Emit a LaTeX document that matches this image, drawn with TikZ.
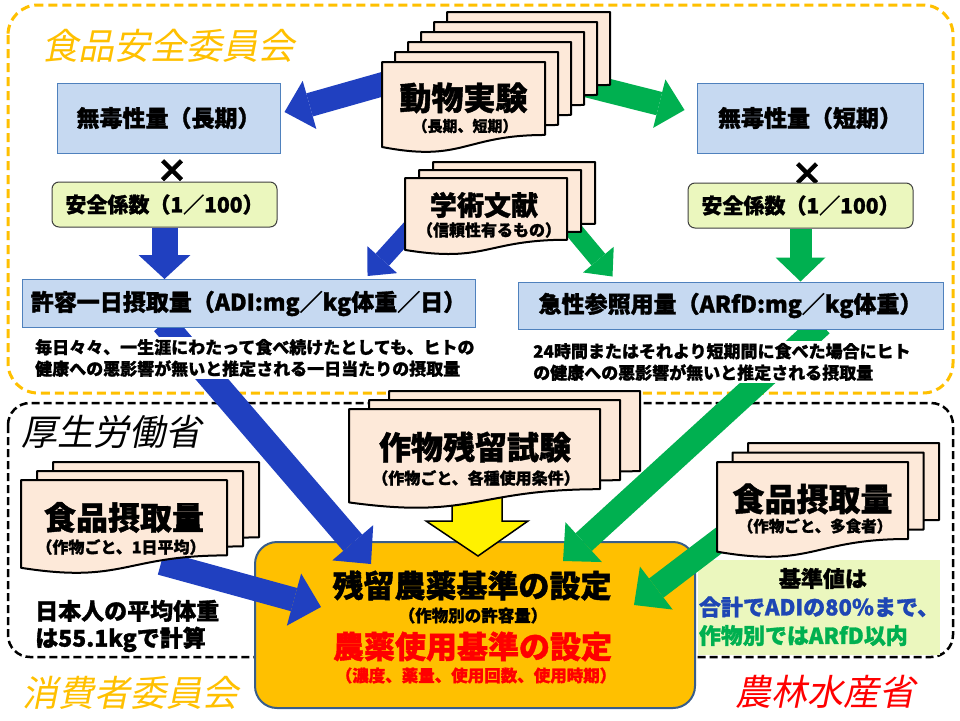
\documentclass[tikz,border=0pt]{standalone}
\usepackage{fontspec}
\setmainfont{Noto Sans CJK JP}[BoldFeatures={FakeBold=1.3}]
\newfontfamily\slantjp{Noto Sans CJK JP}[FakeSlant=0.2]
\usepackage{tikz}
\usetikzlibrary{arrows.meta,positioning,calc}
\definecolor{gold}{RGB}{255,192,0}
\definecolor{skyblue}{RGB}{198,217,241}
\definecolor{boxblue}{RGB}{79,129,189}
\definecolor{limefill}{RGB}{235,247,190}
\definecolor{docfill}{RGB}{253,233,217}
\definecolor{deepblue}{RGB}{32,64,192}
\definecolor{deepgreen}{RGB}{0,176,80}
\definecolor{slate}{RGB}{56,93,138}
\definecolor{textblue}{RGB}{30,70,180}
\pgfdeclarelayer{back}
\pgfdeclarelayer{mid}
\pgfsetlayers{back,mid,main}

% one page with a wavy bottom, top left corner at (#1,#2), size #3 x #4
\newcommand{\docpage}[4]{%
  \filldraw[fill=docfill, draw=black, line width=2pt, line join=round]
    (#1,#2) -- (#1+#3,#2) -- (#1+#3,#2+0.802*#4)
    .. controls (#1+0.5*#3,#2+0.802*#4) and (#1+0.5*#3,#2+1.107*#4) ..
    (#1,#2+0.934*#4) -- cycle;}
% stack of pages, the back ones shifted by (#6,#7)
\newcommand{\docstack}[7]{%
  \foreach \k in {#5} {\docpage{#1+\k*#6}{#2+\k*#7}{#3}{#4}}}

\begin{document}
\begin{tikzpicture}[x=1pt, y=-1pt,
    bluebox/.style={rectangle, draw=boxblue, line width=1pt, fill=skyblue,
                    font=\bfseries\fontsize{23}{26}\selectfont, inner sep=0pt},
    factorbox/.style={rectangle, draw=black!75, line width=1pt, fill=limefill,
                      rounded corners=7pt, font=\bfseries\fontsize{21}{24}\selectfont, inner sep=0pt},
    doctitle/.style={font=\bfseries\fontsize{32}{36}\selectfont, inner sep=0pt},
    docsub/.style={font=\bfseries\fontsize{16}{18}\selectfont, inner sep=0pt},
    note/.style={align=left, font=\bfseries\fontsize{17}{21.5}\selectfont, inner sep=2pt},
    orgname/.style={font=\slantjp\fontsize{36}{40}\selectfont, inner sep=0pt},
    fatblue/.style={draw=deepblue, line width=24pt, -{Triangle[length=26pt,width=50pt,line width=0pt]}},
    fatgreen/.style={draw=deepgreen, line width=24pt, -{Triangle[length=26pt,width=50pt,line width=0pt]}},
    thinhead/.style={line width=18pt, -{Triangle[length=22pt,width=40pt,line width=0pt]}},
    bighead/.style={-{Triangle[length=28pt,width=54pt,line width=0pt]}}
]
\useasboundingbox (0,0) rectangle (960,720);

\begin{pgfonlayer}{back}
\fill[white] (0,0) rectangle (960,720);
\draw[gold, line width=3pt, dash pattern=on 9pt off 5pt, rounded corners=30pt] (8,5) rectangle (953,393);
\draw[black, line width=2.5pt, dash pattern=on 8pt off 4pt, rounded corners=22pt] (8,403) rectangle (953,657);
\node[draw=slate, line width=2pt, fill=gold, rounded corners=22pt, minimum width=440pt,
      minimum height=166pt] (kijun) at (475,625) {};
\node[fill=limefill, minimum width=242pt, minimum height=95pt, align=left, inner sep=0pt,
      font=\bfseries\fontsize{22}{28.5}\selectfont] (limit) at (819,607)
     {\hspace*{80pt}基準値は\\\textcolor{textblue}{合計でADIの80％まで、}\\\textcolor{deepgreen}{作物別ではARfD以内}};
\end{pgfonlayer}

\docstack{382}{62}{163}{91}{5,4,3,2,1,0}{13}{-10}
\docstack{405}{178}{162}{77}{2,1,0}{14}{-8}
\docstack{349}{409}{251}{100}{2,1,0}{20}{-9}
\docstack{21}{480}{206}{94}{2,1,0}{16}{-9}
\docstack{717}{462}{191}{96}{2,1,0}{15.5}{-9.5}

\node[orgname, gold] (fsc) at (168,46) {食品安全委員会};
\node[orgname, black] (mhlw) at (111,432) {厚生労働省};
\node[orgname, gold] (caa) at (130,693) {消費者委員会};
\node[orgname, red] (maff) at (825,692) {農林水産省};

\node[bluebox, minimum width=223pt, minimum height=70pt] (notoxL) at (168.5,118) {無毒性量（長期）};
\node[bluebox, minimum width=226pt, minimum height=70pt] (notoxR) at (810,118) {無毒性量（短期）};
\node[font=\bfseries\fontsize{32}{32}\selectfont, inner sep=0pt] (timesL) at (172,171) {×};
\node[font=\bfseries\fontsize{32}{32}\selectfont, inner sep=0pt] (timesR) at (807,174) {×};
\node[factorbox, minimum width=225pt, minimum height=45pt] (safetyL) at (164.5,204.5) {安全係数（1／100）};
\node[factorbox, minimum width=225pt, minimum height=45pt] (safetyR) at (800.5,205.5) {安全係数（1／100）};
\node[bluebox, minimum width=453pt, minimum height=48pt] (adi) at (248.5,303.5) {許容一日摂取量（ADI:mg／kg体重／日）};
\node[bluebox, minimum width=425pt, minimum height=47pt] (arfd) at (730.5,305.5) {急性参照用量（ARfD:mg／kg体重）};
\node[note, fill=white, anchor=west] (adinote) at (33,358)
     {毎日々々、一生涯にわたって食べ続けたとしても、ヒトの\\健康への悪影響が無いと推定される一日当たりの摂取量};
\node[note, fill=white, anchor=west] (arfdnote) at (531,362)
     {24時間またはそれより短期間に食べた場合にヒト\\の健康への悪影響が無いと推定される摂取量};

\node[doctitle] (animal) at (463.5,98) {動物実験};
\node[docsub, font=\bfseries\fontsize{15}{18}\selectfont] (animalsub) at (465,126) {（長期、短期）};
\node[doctitle, font=\bfseries\fontsize{27}{30}\selectfont] (papers) at (484,205) {学術文献};
\node[docsub] (paperssub) at (489,230) {（信頼性有るもの）};
\node[doctitle] (croptest) at (475,447) {作物残留試験};
\node[docsub] (croptestsub) at (476,478) {（作物ごと、各種使用条件）};
\node[doctitle] (intakeL) at (124,517.5) {食品摂取量};
\node[docsub] (intakeLsub) at (121,547) {（作物ごと、1日平均）};
\node[doctitle] (intakeR) at (812.5,499) {食品摂取量};
\node[docsub, font=\bfseries\fontsize{15.5}{18}\selectfont] (intakeRsub) at (815,526) {（作物ごと、多食者）};

\node[anchor=west, align=left, inner sep=0pt, font=\bfseries\fontsize{23}{27}\selectfont] (bodywt) at (35,626)
     {日本人の平均体重\\は55.1kgで計算};

\node[font=\bfseries\fontsize{31}{34}\selectfont, inner sep=0pt] (kijun1) at (472,585.5) {残留農薬基準の設定};
\node[font=\bfseries\fontsize{16.5}{18}\selectfont, inner sep=0pt] (kijun1sub) at (473,615.5) {（作物別の許容量）};
\node[font=\bfseries\fontsize{31}{34}\selectfont, inner sep=0pt, red] (kijun2) at (472.5,646.5) {農薬使用基準の設定};
\node[font=\bfseries\fontsize{16.5}{18}\selectfont, inner sep=0pt, red] (kijun2sub) at (476,675.5) {（濃度、薬量、使用回数、使用時期）};

\begin{pgfonlayer}{mid}
\draw[fatblue] ($(animal.north west)+(0,-3)$) -- ($(notoxL.east)+(4,-6)$);
\draw[fatgreen] ($(animal.north east)+(0,-12)$) -- ($(notoxR.west)+(-12,-8)$);
\draw[fatblue, thinhead] ($(paperssub.west)+(-4,-4)$) -- ($(adi.north east)+(-108,-3)$);
\draw[fatgreen, thinhead] ($(paperssub.east)+(4,-10)$) -- ($(arfd.north west)+(95,-5)$);
\draw[fatblue, line width=26pt, -{Triangle[length=24pt,width=52pt,line width=0pt]}] (safetyL.south) -- (safetyL.south |- adi.north);
\draw[fatgreen, line width=22pt, -{Triangle[length=24pt,width=50pt,line width=0pt]}] (safetyR.south) -- (safetyR.south |- arfd.north);
\draw[fatblue, line width=25pt, bighead] ($(adi.south)+(-85,-5)$) -- ($(kijun.north west)+(117,23)$);
\draw[fatgreen, line width=24pt, bighead] ($(arfd.south)+(91,-5)$) -- ($(kijun.north east)+(-133,20)$);
\draw[fatblue, bighead] ($(intakeLsub.south)+(40,8)$) -- ($(kijun.west)+(67,-18)$);
\draw[fatgreen, bighead] ($(intakeRsub.south west)+(-10,0)$) -- ($(kijun.east)+(-62,-20)$);
\draw[line width=1.5pt, fill=yellow] ($(kijun.north)+(3,15)$) -- ++(-52,-35) -- ++(26,0) -- ++(0,-30)
  -- ++(50,0) -- ++(0,30) -- ++(26,0) -- cycle;
\end{pgfonlayer}
\end{tikzpicture}
\end{document}
